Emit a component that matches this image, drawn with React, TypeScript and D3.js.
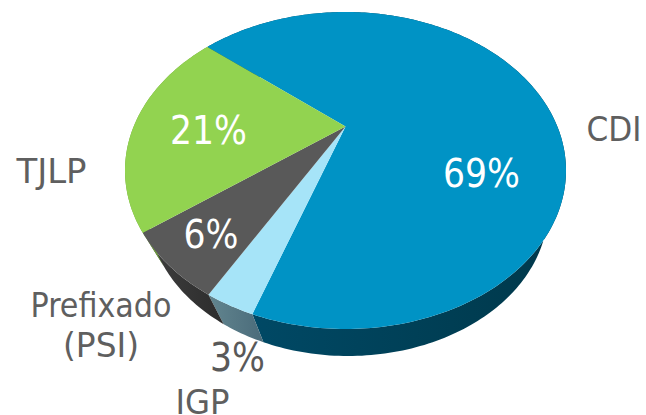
import React from "react";
import * as d3 from "d3";

// Data
const categories = ["CDI", "IGP", "Prefixado (PSI)", "TJLP"];
const shares = [69.2, 2.9, 6.5, 21.4];
const valueLabels = ["69%", "3%", "6%", "21%"];
const sliceColors = ["#0093C5", "#A6E4F8", "#595959", "#92D350"];
const sideFrom = ["#004B69", "#62858F", "#404040", "#6f9f3c"];
const sideTo = ["#00384A", "#4A6B7A", "#2C2C2C", "#6f9f3c"];

// Layout, kept apart from the data
const WIDTH = 646;
const HEIGHT = 415;
const START_DEG = 309.8;
const TOP = { cx: 345.5, cy: 170.5, rx: 220.5, ry: 158.5 };
const BOTTOM = { cx: 348, cy: 209, rx: 200, ry: 147 };
const TILT = -0.278; // moves the apex of the pie toward the far edge
const APEX = { x: TOP.cx, y: TOP.cy + TILT * TOP.ry };
const FONT = "'DejaVu Sans Condensed', 'DejaVu Sans', sans-serif";
const valueLabelPos = [
  { x: 481.5, y: 187, fill: "#fff", size: 38.5 },
  { x: 237.5, y: 371, fill: "#595959", size: 38.5 },
  { x: 211, y: 248, fill: "#fff", size: 38.5 },
  { x: 208.5, y: 144, fill: "#fff", size: 38.5 },
];
const nameLabels = [
  { lines: ["CDI"], widths: [55], x: 614, y: 141 },
  { lines: ["IGP"], widths: [54], x: 202.5, y: 414 },
  { lines: ["Prefixado", "(PSI)"], widths: [141, 76], x: 101, y: 317 },
  { lines: ["TJLP"], widths: [70], x: 51.5, y: 182.5 },
];

type Ell = { cx: number; cy: number; rx: number; ry: number };

// A pie angle (clockwise from the far edge) mapped through the perspective of the disc
function rim(angle: number, e: Ell): [number, number] {
  const u = Math.sin(angle);
  const v = -Math.cos(angle);
  const d = 1 + TILT * v;
  const un = (u * Math.sqrt(1 - TILT * TILT)) / d;
  const vn = (v + TILT) / d;
  return [e.cx + un * e.rx, e.cy + vn * e.ry];
}

const arcs = d3
  .pie<number>()
  .sort(null)
  .startAngle((START_DEG * Math.PI) / 180)
  .endAngle((START_DEG * Math.PI) / 180 + 2 * Math.PI)(shares);

const line = d3.line();

function rimPoints(a0: number, a1: number, e: Ell): [number, number][] {
  const n = Math.max(2, Math.ceil(((a1 - a0) * 180) / Math.PI));
  return d3.range(n + 1).map((i) => rim(a0 + ((a1 - a0) * i) / n, e));
}

export default function App() {
  return (
    <svg
      width={WIDTH}
      height={HEIGHT}
      viewBox={`0 0 ${WIDTH} ${HEIGHT}`}
      style={{ position: "absolute", left: 0, top: 0, fontFamily: FONT, fontStretch: "condensed" }}
    >
      <defs>
        {arcs.map((_, i) => (
          <linearGradient key={i} id={`side${i}`} x1="0" x2="1" y1="0" y2="0">
            <stop offset="0" stopColor={sideFrom[i]} />
            <stop offset="1" stopColor={sideTo[i]} />
          </linearGradient>
        ))}
      </defs>
      {arcs.map((a, i) => (
        <path
          key={`s${i}`}
          d={
            line([
              ...rimPoints(a.startAngle, a.endAngle, TOP),
              ...rimPoints(a.startAngle, a.endAngle, BOTTOM).reverse(),
            ]) + "Z"
          }
          fill={`url(#side${i})`}
        />
      ))}
      {arcs.map((a, i) => (
        <path
          key={`t${i}`}
          d={line([[APEX.x, APEX.y], ...rimPoints(a.startAngle, a.endAngle, TOP)]) + "Z"}
          fill={sliceColors[i]}
        />
      ))}
      {valueLabels.map((t, i) => (
        <text
          key={`v${i}`}
          x={valueLabelPos[i].x}
          y={valueLabelPos[i].y}
          fill={valueLabelPos[i].fill}
          fontSize={valueLabelPos[i].size}
          textAnchor="middle"
        >
          {t}
        </text>
      ))}
      {categories.map((c, i) =>
        nameLabels[i].lines.map((l, j) => (
          <text
            key={`${c}${j}`}
            x={nameLabels[i].x}
            y={nameLabels[i].y + j * 40}
            fill="#5f5f5f"
            fontSize={34}
            textAnchor="middle"
            textLength={nameLabels[i].widths[j]}
            lengthAdjust="spacingAndGlyphs"
          >
            {l}
          </text>
        ))
      )}
    </svg>
  );
}
